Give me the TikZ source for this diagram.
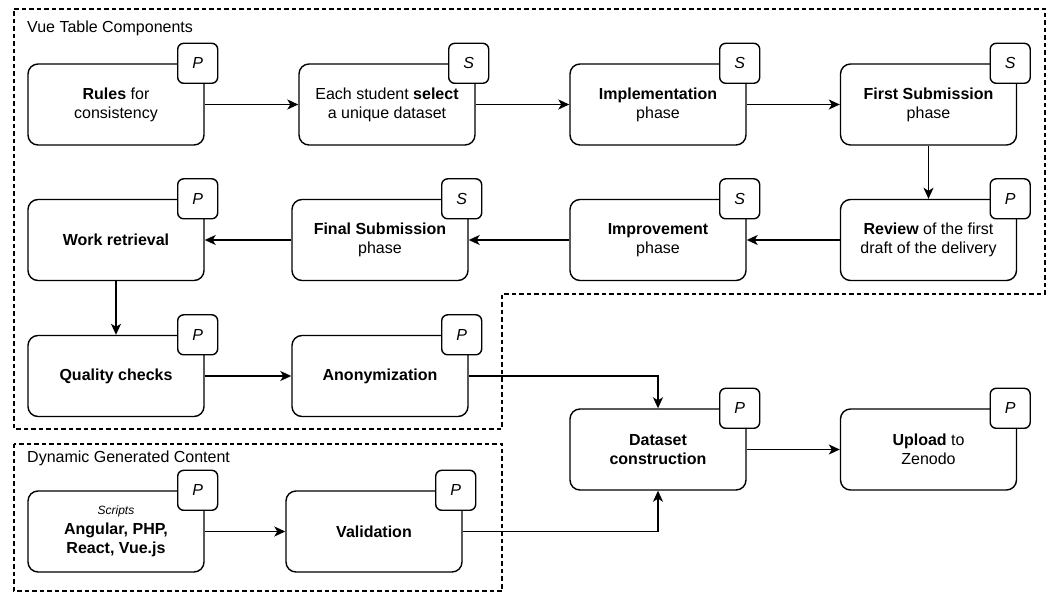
\documentclass[tikz,border=0pt]{standalone}
\usepackage{fontspec}
\setmainfont{Liberation Sans}
\usetikzlibrary{arrows.meta,calc}

\tikzset{
  stagebox/.style={draw, line width=1.4pt, rounded corners=10pt, fill=white,
    minimum width=176pt, minimum height=81pt, align=center, inner sep=2pt,
    font=\fontsize{16}{19.2}\selectfont},
  rolebadge/.style={draw, line width=1.4pt, rounded corners=6pt, fill=white,
    minimum width=40pt, minimum height=40pt, inner sep=0pt,
    font=\fontsize{16}{19.2}\selectfont\itshape},
  flow/.style={line width=1.4pt, -{Stealth[length=11pt,width=10pt,inset=3pt]}},
  region/.style={line width=1.2pt, dash pattern=on 4.5pt off 3pt},
  regionlabel/.style={anchor=west, inner sep=0pt, font=\fontsize{16}{19.2}\selectfont}
}

\newcommand{\role}[2]{%
  \node[rolebadge] (#1-role) at ($(#1.north east)+(-7,0)$) {#2};}

\begin{document}
\begin{tikzpicture}[x=1pt, y=-1pt]
\useasboundingbox (0,0) rectangle (1053,593);

% group outlines
\draw[region] (14,9) -- (1045,9) -- (1045,294) -- (502,294) -- (502,429) -- (14,429) -- cycle;
\draw[region] (14,444) rectangle (502,591);
\node[regionlabel] (vuelabel) at (27,28) {Vue Table Components};
\node[regionlabel] (dynlabel) at (27,458) {Dynamic Generated Content};

% stages
\node[stagebox] (rules)   at (116,104.5)   {\textbf{Rules} for\\consistency};
\node[stagebox] (select)  at (387,104.5)   {Each student \textbf{select}\\a unique dataset};
\node[stagebox] (impl)    at (658,104.5)   {\textbf{Implementation}\\phase};
\node[stagebox] (first)   at (928.5,104.5) {\textbf{First Submission}\\phase};
\node[stagebox] (review)  at (928.5,240)   {\textbf{Review} of the first\\draft of the delivery};
\node[stagebox] (improve) at (658,240)     {\textbf{Improvement}\\phase};
\node[stagebox] (final)   at (380,240)     {\textbf{Final Submission}\\phase};
\node[stagebox] (work)    at (116,240)     {\textbf{Work retrieval}};
\node[stagebox] (quality) at (116,376)     {\textbf{Quality checks}};
\node[stagebox] (anon)    at (380,376)     {\textbf{Anonymization}};
\node[stagebox] (dataset) at (658,449.5)   {\textbf{Dataset}\\\textbf{construction}};
\node[stagebox] (upload)  at (928.5,449.5) {\textbf{Upload} to\\Zenodo};
\node[stagebox] (scripts) at (116,531.5)   {{\fontsize{12}{15}\selectfont\itshape Scripts}\\[1pt]\textbf{Angular, PHP,}\\\textbf{React, Vue.js}};
\node[stagebox] (valid)   at (374,531.5)   {\textbf{Validation}};

% role badges
\role{rules}{P}
\role{select}{S}
\role{impl}{S}
\role{first}{S}
\role{review}{P}
\role{improve}{S}
\role{final}{S}
\role{work}{P}
\role{quality}{P}
\role{anon}{P}
\role{dataset}{P}
\role{upload}{P}
\role{scripts}{P}
\role{valid}{P}

% flow
\draw[flow] (rules) -- (select);
\draw[flow] (select) -- (impl);
\draw[flow] (impl) -- (first);
\draw[flow] (first) -- (review);
\draw[flow] (review) -- (improve);
\draw[flow] (improve) -- (final);
\draw[flow] (final) -- (work);
\draw[flow] (work) -- (quality);
\draw[flow] (quality) -- (anon);
\draw[flow] (anon.east) -| (dataset.north);
\draw[flow] (scripts) -- (valid);
\draw[flow] (valid.east) -| (dataset.south);
\draw[flow] (dataset) -- (upload);
\end{tikzpicture}
\end{document}
